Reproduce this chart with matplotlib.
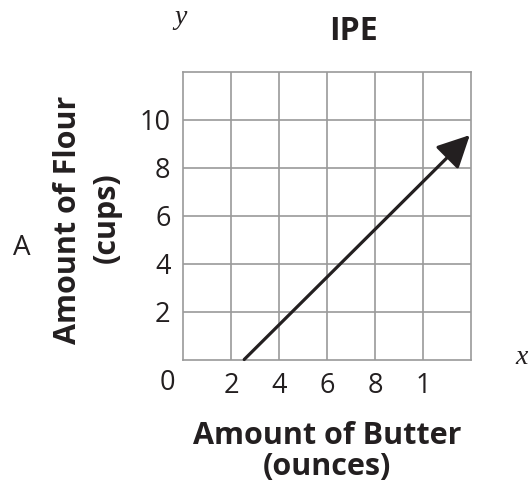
import matplotlib
matplotlib.use("Agg")
import matplotlib.pyplot as plt

plt.rcParams['font.family'] = ['Open Sans', 'DejaVu Sans']

# data
line_x = [2.55, 11.95]
line_y = [0, 9.35]
x_ticks = [2, 4, 6, 8, 10]
x_labels = ["2", "4", "6", "8", "1"]
y_ticks = [2, 4, 6, 8, 10]
y_labels = ["2", "4", "6", "8", "10"]

ink = '#231f20'

fig = plt.figure(figsize=(5.30, 4.92), dpi=100)
ax = fig.add_axes([183/530, 1 - 359.5/492, 288/530, 288/492])

ax.set_xlim(0, 12)
ax.set_ylim(0, 12)
ax.set_xticks(x_ticks)
ax.set_xticklabels(x_labels)
ax.set_yticks(y_ticks)
ax.set_yticklabels(y_labels)
ax.tick_params(length=0, labelsize=19.5, colors=ink)
ax.tick_params(axis='y', pad=9)
ax.tick_params(axis='x', pad=9)
ax.grid(True, color='#9a9a9a', linewidth=1.2)
for s in ax.spines.values():
    s.set_color('#9a9a9a')
    s.set_linewidth(1.2)
ax.set_axisbelow(True)

ax.annotate("", xy=(line_x[1], line_y[1]), xytext=(line_x[0], line_y[0]),
            arrowprops=dict(arrowstyle="-|>,head_length=0.9,head_width=0.45",
                            color=ink, lw=2.3, mutation_scale=22,
                            shrinkA=0, shrinkB=0))

# corner zero label
fig.text(167/530, 1 - 383/492, "0", fontsize=19.5, color=ink,
         ha='center', va='center')

fig.text(354/530, 1 - 31/492, "IPE", fontsize=23, fontweight='bold',
         color=ink, ha='center', va='center')
fig.text(181/530, 1 - 17/492, "y", fontsize=20, style='italic',
         family='Liberation Serif', color=ink, ha='center', va='center')
fig.text(522/530, 1 - 357/492, "x", fontsize=20, style='italic',
         family='Liberation Serif', color=ink, ha='center', va='center')
fig.text(22/530, 1 - 248/492, "A", fontsize=20, color=ink,
         ha='center', va='center')

fig.text(68/530, 1 - 220/492, "Amount of Flour", fontsize=22,
         fontweight='bold', rotation=90, color=ink,
         ha='center', va='center')
fig.text(107/530, 1 - 218/492, "(cups)", fontsize=22,
         fontweight='bold', rotation=90, color=ink,
         ha='center', va='center')
fig.text(327/530, 1 - 436/492, "Amount of Butter", fontsize=22,
         fontweight='bold', color=ink, ha='center', va='center')
fig.text(327/530, 1 - 467/492, "(ounces)", fontsize=22,
         fontweight='bold', color=ink, ha='center', va='center')

fig.savefig("out.png", dpi=100)
